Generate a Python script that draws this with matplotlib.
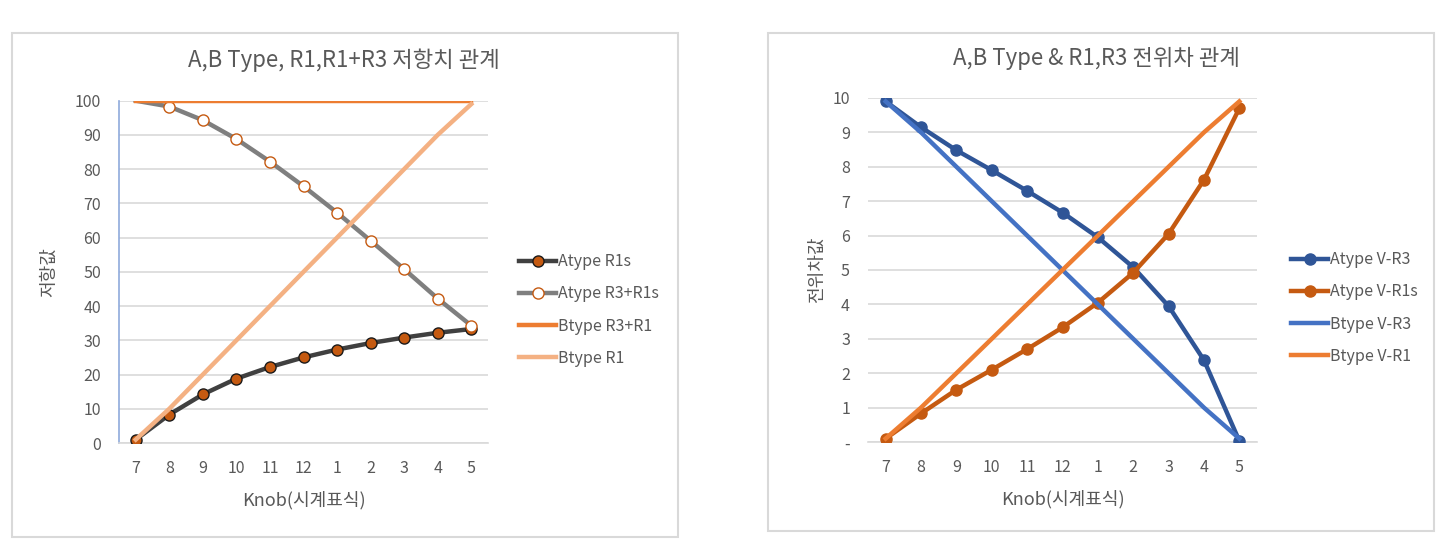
import matplotlib
matplotlib.use("Agg")
import matplotlib.pyplot as plt
from matplotlib.patches import Rectangle

plt.rcParams['font.family'] = ['Noto Sans CJK KR', 'DejaVu Sans']

# =====================================================================================
# Data
# =====================================================================================

knob = ["7", "8", "9", "10", "11", "12", "1", "2", "3", "4", "5"]

# left chart: resistance
a_r1s = [1.0, 8.3, 14.2, 18.8, 22.2, 25.0, 27.3, 29.2, 30.8, 32.2, 33.3]
a_r3_r1s = [100.0, 98.3, 94.3, 88.8, 82.2, 75.0, 67.3, 59.1, 50.8, 42.2, 34.3]
b_r3_r1 = [100, 100, 100, 100, 100, 100, 100, 100, 100, 100, 100]
b_r1 = [1, 10, 20, 30, 40, 50, 60, 70, 80, 90, 99]

# right chart: voltage
a_v_r3 = [9.9, 9.15, 8.48, 7.9, 7.3, 6.67, 5.95, 5.08, 3.95, 2.38, 0.03]
a_v_r1s = [0.1, 0.83, 1.52, 2.1, 2.7, 3.33, 4.05, 4.92, 6.05, 7.62, 9.7]
b_v_r3 = [9.9, 9, 8, 7, 6, 5, 4, 3, 2, 1, 0.1]
b_v_r1 = [0.1, 1, 2, 3, 4, 5, 6, 7, 8, 9, 9.9]

TXT = "#595959"
GRID = "#D9D9D9"

W, H = 1436, 556
fig = plt.figure(figsize=(W / 100, H / 100), dpi=100)


def px_rect(x0, y0, x1, y1):
    """pixel box (top-left origin) -> figure fraction [l, b, w, h]"""
    return [x0 / W, (H - y1) / H, (x1 - x0) / W, (y1 - y0) / H]


# chart frames
for box in [(12, 33, 678, 537), (768, 33, 1434, 531)]:
    l, b, w, h = px_rect(*box)
    fig.patches.append(Rectangle((l, b), w, h, transform=fig.transFigure,
                                 fill=False, edgecolor=GRID, linewidth=1.5))


def style_axes(ax, ymax, step):
    x = range(len(knob))
    ax.set_xlim(-0.5, len(knob) - 0.5)
    ax.set_ylim(0, ymax)
    ax.set_xticks(list(x))
    ax.set_xticklabels(knob)
    ax.set_yticks([i * step for i in range(11)])
    ax.grid(axis="y", color=GRID, linewidth=1.2)
    ax.set_axisbelow(True)
    for s in ["top", "right", "left"]:
        ax.spines[s].set_visible(False)
    ax.spines["bottom"].set_color(GRID)
    ax.spines["bottom"].set_linewidth(1.2)
    ax.tick_params(axis="both", length=0, colors=TXT, labelsize=11.5)
    ax.tick_params(axis="x", pad=12)
    ax.tick_params(axis="y", pad=13)
    ax.set_xlabel("Knob(시계표식)", color=TXT, fontsize=13, labelpad=10)


# =====================================================================================
# Left chart
# =====================================================================================

ax1 = fig.add_axes(px_rect(119, 100.7, 488, 443))
style_axes(ax1, 100, 10)
ax1.spines["left"].set_visible(True)
ax1.spines["left"].set_color("#8FAADC")
ax1.spines["left"].set_linewidth(1.2)
x = list(range(len(knob)))

l1, = ax1.plot(x, a_r1s, color="#404040", linewidth=3.2, marker="o", markersize=8,
               markerfacecolor="#C55A11", markeredgecolor="#1a1a1a", markeredgewidth=1,
               label="Atype R1s", zorder=3)
l2, = ax1.plot(x, a_r3_r1s, color="#7F7F7F", linewidth=3.2, marker="o", markersize=8,
               markerfacecolor="white", markeredgecolor="#C55A11", markeredgewidth=1,
               markevery=list(range(1, 11)), label="Atype R3+R1s", zorder=4)
l3, = ax1.plot(x, b_r3_r1, color="#ED7D31", linewidth=3.2, label="Btype R3+R1", zorder=5)
l4, = ax1.plot(x, b_r1, color="#F4B183", linewidth=3.2, label="Btype R1", zorder=6)

ax1.set_ylabel("저항값", color=TXT, fontsize=13, labelpad=12)
fig.text(344 / W, 1 - 60 / H, "A,B Type, R1,R1+R3 저항치 관계", ha="center", va="center",
         color=TXT, fontsize=16)

fig.legend(handles=[l1, l2, l3, l4], loc="center left",
           bbox_to_anchor=(505 / W, 1 - 310 / H), frameon=False, fontsize=11.5,
           labelcolor=TXT, handlelength=2.3, labelspacing=0.95, handletextpad=0.1)

# =====================================================================================
# Right chart
# =====================================================================================

ax2 = fig.add_axes(px_rect(868, 98, 1257, 442))
style_axes(ax2, 10, 1)
ax2.set_yticklabels(["-"] + [str(i) for i in range(1, 11)])

r1, = ax2.plot(x, a_v_r3, color="#2F5597", linewidth=3.2, marker="o", markersize=8,
               markerfacecolor="#2F5597", markeredgecolor="#2F5597",
               label="Atype V-R3", zorder=3)
r2, = ax2.plot(x, a_v_r1s, color="#C55A11", linewidth=3.2, marker="o", markersize=8,
               markerfacecolor="#C55A11", markeredgecolor="#C55A11",
               label="Atype V-R1s", zorder=4)
r3, = ax2.plot(x, b_v_r3, color="#4472C4", linewidth=3.2, label="Btype V-R3", zorder=5)
r4, = ax2.plot(x, b_v_r1, color="#ED7D31", linewidth=3.2, label="Btype V-R1", zorder=6)

ax2.set_ylabel("전위차값", color=TXT, fontsize=13, labelpad=5)
fig.text(1096 / W, 1 - 58 / H, "A,B Type & R1,R3 전위차 관계", ha="center", va="center",
         color=TXT, fontsize=16)

fig.legend(handles=[r1, r2, r3, r4], loc="center left",
           bbox_to_anchor=(1277 / W, 1 - 308 / H), frameon=False, fontsize=11.5,
           labelcolor=TXT, handlelength=2.3, labelspacing=0.95, handletextpad=0.1)

fig.savefig("out.png", dpi=100, facecolor="white")
